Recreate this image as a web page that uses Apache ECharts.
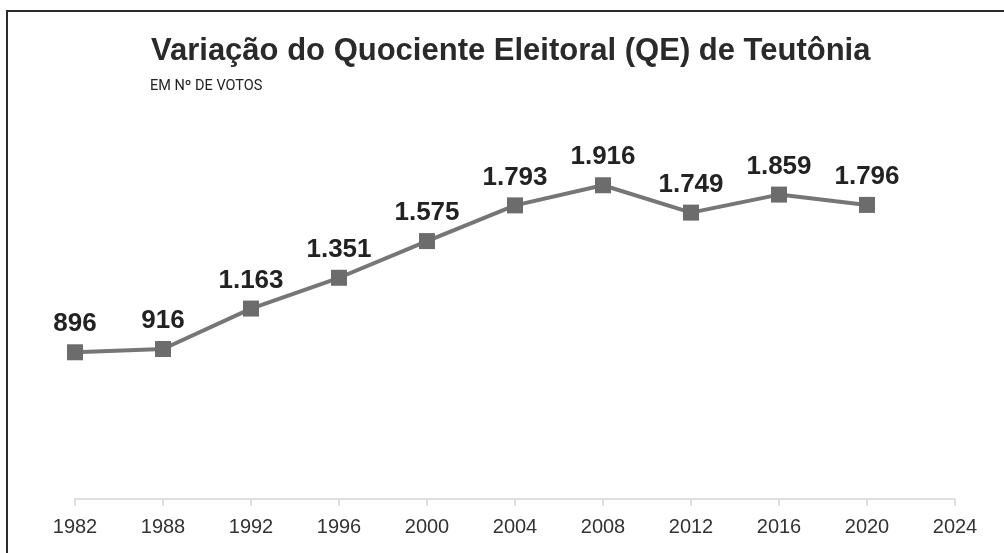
<!DOCTYPE html>
<html>
<head>
<meta charset="utf-8">
<style>
  html, body { margin: 0; padding: 0; background: #fff; }
  #chart { width: 1004px; height: 553px; }
</style>
<script src="https://cdn.jsdelivr.net/npm/echarts@6/dist/echarts.min.js"></script>
</head>
<body>
<div id="chart"></div>
<script>
// anos das eleições
var anos = ["1982", "1988", "1992", "1996", "2000", "2004", "2008", "2012", "2016", "2020", "2024"];
// quociente eleitoral em nº de votos (2024 sem valor)
var qe = [896, 916, 1163, 1351, 1575, 1793, 1916, 1749, 1859, 1796, null];

// formata com ponto de milhar (ex: 1.163)
function fmt(v) {
  return String(v).replace(/\B(?=(\d{3})+(?!\d))/g, ".");
}

var chart = echarts.init(document.getElementById("chart"));
var option = {
  backgroundColor: "#fff",
  animation: false,
  title: [
    {
      text: "Variação do Quociente Eleitoral (QE) de Teutônia",
      left: 151,
      top: 36,
      padding: 0,
      textStyle: {
        fontFamily: "Liberation Sans",
        fontSize: 31,
        fontWeight: "bold",
        color: "#2a2a2a"
      }
    },
    {
      text: "EM Nº DE VOTOS",
      left: 150,
      top: 79,
      padding: 0,
      textStyle: {
        fontFamily: "Roboto",
        fontSize: 14.5,
        fontWeight: "normal",
        color: "#222"
      }
    }
  ],
  graphic: [
    {
      // moldura (só esquerda e topo aparecem)
      type: "rect",
      shape: { x: 7, y: 11, width: 1100, height: 700 },
      style: { fill: "none", stroke: "#2b2b2b", lineWidth: 2 },
      silent: true
    }
  ],
  grid: {
    left: 75,
    right: 49,
    top: 106,
    bottom: 54
  },
  xAxis: {
    type: "category",
    data: anos,
    boundaryGap: false,
    axisLine: { lineStyle: { color: "#d3d6da", width: 1.5 } },
    axisTick: { show: true, length: 7, lineStyle: { color: "#d3d6da", width: 1.5 } },
    axisLabel: {
      margin: 18,
      fontFamily: "Liberation Sans",
      fontSize: 20,
      color: "#333"
    }
  },
  yAxis: {
    type: "value",
    min: 0,
    max: 2400,
    show: false,
    splitLine: { show: false }
  },
  series: [
    {
      type: "line",
      data: qe,
      symbol: "rect",
      symbolSize: 16,
      lineStyle: { color: "#767676", width: 4 },
      itemStyle: { color: "#6c6c6c" },
      label: {
        show: true,
        position: "top",
        distance: 7,
        fontFamily: "Liberation Sans",
        fontSize: 26,
        fontWeight: "bold",
        color: "#222",
        formatter: function (p) {
          return fmt(p.value);
        }
      }
    }
  ]
};
chart.setOption(option);
</script>
</body>
</html>
